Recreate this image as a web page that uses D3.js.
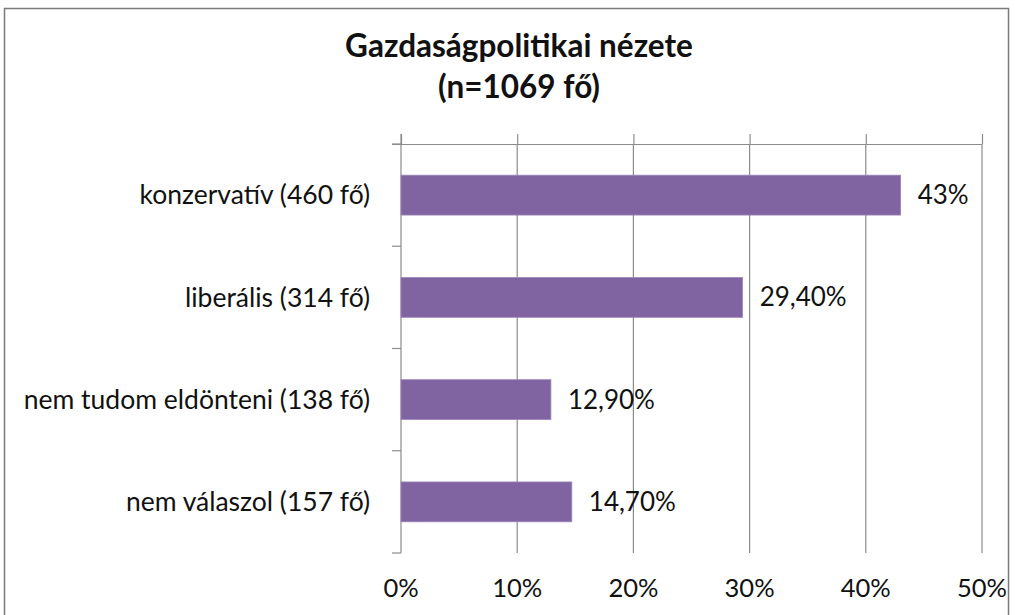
<!DOCTYPE html>
<html><head><meta charset="utf-8">
<script src="https://cdn.jsdelivr.net/npm/d3@7"></script>
<style>body{margin:0;background:#fff}svg{display:block}text{font-family:Lato,"Open Sans",sans-serif;fill:#111}</style>
</head><body><svg id="c" width="1015" height="615"></svg>
<script>
const titleLines = ["Gazdaságpolitikai nézete", "(n=1069 fő)"];
const categories = ["konzervatív (460 fő)", "liberális (314 fő)", "nem tudom eldönteni (138 fő)", "nem válaszol (157 fő)"];
const values = [43, 29.4, 12.9, 14.7];
const valueLabels = ["43%", "29,40%", "12,90%", "14,70%"];
const xTicks = [0, 10, 20, 30, 40, 50];

const svg = d3.select("#c");
svg.append("rect").attr("x", 4.5).attr("y", 8.5).attr("width", 1004).attr("height", 640)
  .attr("fill", "#fff").attr("stroke", "#7a7a7a").attr("stroke-width", 1.5);

const m = {left: 401, right: 982, top: 144, bottom: 553};
const x = d3.scaleLinear().domain([0, 50]).range([m.left, m.right]);
const y = d3.scaleBand().domain(categories).range([m.top, m.bottom]).padding(0);
const barH = y.bandwidth() * 0.39;
const grid = "#8c8c8c";

// title
svg.append("g").selectAll("text").data(titleLines).join("text")
  .attr("x", 519).attr("y", (d, i) => 57 + i * 41)
  .attr("text-anchor", "middle").attr("font-size", 31.5).attr("font-weight", "bold")
  .text(d => d);

// vertical gridlines
svg.append("g").selectAll("line").data(xTicks.slice(1)).join("line")
  .attr("x1", d => x(d)).attr("x2", d => x(d)).attr("y1", m.top).attr("y2", m.bottom)
  .attr("stroke", grid).attr("stroke-width", 1.2);

// top value axis (ticks only upward)
const topAxis = svg.append("g").attr("transform", `translate(0,${m.top})`)
  .call(d3.axisTop(x).tickValues(xTicks).tickSize(10).tickFormat(""));
topAxis.select(".domain").attr("d", `M392,0.5H${m.right}`).attr("stroke", grid).attr("stroke-width", 1.2);
topAxis.selectAll(".tick line").attr("stroke", grid).attr("stroke-width", 1.2);

// left category axis
const boundaries = categories.map(c => y(c)).concat([m.bottom]);
svg.append("line").attr("x1", m.left).attr("x2", m.left).attr("y1", m.top - 10).attr("y2", m.bottom)
  .attr("stroke", grid).attr("stroke-width", 1.2);
svg.append("g").selectAll("line").data(boundaries).join("line")
  .attr("x1", m.left - 9).attr("x2", m.left).attr("y1", d => d).attr("y2", d => d)
  .attr("stroke", grid).attr("stroke-width", 1.2);

// bottom tick labels
svg.append("g").selectAll("text").data(xTicks).join("text")
  .attr("x", d => x(d)).attr("y", 597).attr("text-anchor", "middle").attr("font-size", 25.5)
  .text(d => d + "%");

// category labels
svg.append("g").selectAll("text").data(categories).join("text")
  .attr("x", 370).attr("y", d => y(d) + y.bandwidth() / 2).attr("dy", "0.35em")
  .attr("text-anchor", "end").attr("font-size", 26.5).text(d => d);

// bars
svg.append("g").selectAll("rect").data(values).join("rect")
  .attr("x", x(0)).attr("y", (d, i) => y(categories[i]) + (y.bandwidth() - barH) / 2)
  .attr("width", d => x(d) - x(0)).attr("height", barH)
  .attr("fill", "#8064a2").attr("stroke", "#9d86ba").attr("stroke-width", 0.8);

// value labels
svg.append("g").selectAll("text").data(values).join("text")
  .attr("x", d => x(d) + 17).attr("y", (d, i) => y(categories[i]) + y.bandwidth() / 2).attr("dy", "0.35em")
  .attr("font-size", 26).text((d, i) => valueLabels[i]);
</script></body></html>
